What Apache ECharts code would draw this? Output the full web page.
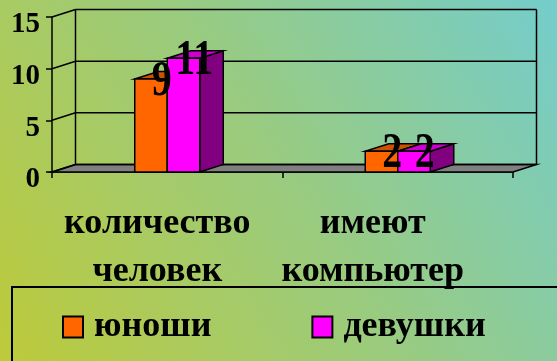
<!DOCTYPE html>
<html>
<head>
<meta charset="utf-8">
<title>Юноши и девушки</title>
<script src="https://cdn.jsdelivr.net/npm/echarts@6/dist/echarts.min.js"></script>
<style>
  html, body { margin: 0; padding: 0; }
  #chart { width: 557px; height: 361px; }
</style>
</head>
<body>
<div id="chart"></div>
<script>
// Data
const categories = ['количество\nчеловек', 'имеют\nкомпьютер'];
const seriesNames = ['юноши', 'девушки'];
const boys = [9, 2];
const girls = [11, 2];
const yMin = 0, yMax = 15, yStep = 5;

// Pseudo-3D look: depth offset of the back plane, in pixels
const DX = 23.5, DY = 7.5;
const BAR_RATIO = 0.141;
const SERIF = '"Liberation Serif", "Times New Roman", serif';
const colors = {
  boys:  { front: '#ff6600', top: '#cc5200', side: '#993d00' },
  girls: { front: '#ff00ff', top: '#cc00cc', side: '#800080' }
};

function renderFrame(params, api) {
  const cs = params.coordSys;
  const xl = cs.x, xr = cs.x + cs.width;
  const yb = api.coord([0, yMin])[1];
  const yt = api.coord([0, yMax])[1];
  const line = { stroke: '#000', lineWidth: 1.5 };
  const children = [];
  // floor
  children.push({
    type: 'polygon',
    shape: { points: [[xl, yb], [xl + DX, yb - DY], [xr + DX, yb - DY], [xr, yb]] },
    style: { fill: '#808080', stroke: '#000', lineWidth: 1.5 }
  });
  // back wall verticals
  children.push({ type: 'line', shape: { x1: xl + DX, y1: yt - DY, x2: xl + DX, y2: yb - DY }, style: line });
  children.push({ type: 'line', shape: { x1: xr + DX, y1: yt - DY, x2: xr + DX, y2: yb - DY }, style: line });
  // gridlines on back wall and left side
  for (let v = yMin; v <= yMax; v += yStep) {
    const y = api.coord([0, v])[1];
    children.push({ type: 'line', shape: { x1: xl + DX, y1: y - DY, x2: xr + DX, y2: y - DY }, style: line });
    children.push({ type: 'line', shape: { x1: xl, y1: y, x2: xl + DX, y2: y - DY }, style: line });
  }
  return { type: 'group', children: children };
}

function makeBarRenderer(palette, shift) {
  return function (params, api) {
    const cat = api.value(0), val = api.value(1);
    const base = api.coord([cat, 0]);
    const top = api.coord([cat, val]);
    const w = api.size([1, 0])[0] * BAR_RATIO;
    const x0 = base[0] + shift * w, x1 = x0 + w;
    const yb = base[1], yt = top[1];
    const stroke = { stroke: '#000', lineWidth: 1.5 };
    return {
      type: 'group',
      children: [
        { type: 'polygon', shape: { points: [[x1, yt], [x1 + DX, yt - DY], [x1 + DX, yb - DY], [x1, yb]] },
          style: Object.assign({ fill: palette.side }, stroke) },
        { type: 'polygon', shape: { points: [[x0, yt], [x0 + DX, yt - DY], [x1 + DX, yt - DY], [x1, yt]] },
          style: Object.assign({ fill: palette.top }, stroke) },
        { type: 'rect', shape: { x: x0, y: yt, width: w, height: yb - yt },
          style: Object.assign({ fill: palette.front }, stroke) },
        { type: 'text', z2: 100,
          x: (x0 + x1) / 2 + DX / 2 - 1, y: yt - DY / 2 + 7,
          scaleY: 1.25,
          style: { text: String(val), fill: '#000', font: 'bold 40px ' + SERIF,
                   align: 'center', verticalAlign: 'middle' } }
      ]
    };
  };
}

const chart = echarts.init(document.getElementById('chart'));
chart.setOption({
  animation: false,
  backgroundColor: {
    type: 'linear', x: 0, y: 1, x2: 1, y2: 0,
    colorStops: [
      { offset: 0, color: '#bdca3a' },
      { offset: 0.5, color: '#9acb7e' },
      { offset: 1, color: '#74cdcc' }
    ]
  },
  grid: { left: 52, right: 44, top: 17, bottom: 189 },
  legend: {
    data: seriesNames,
    left: 12, top: 287,
    width: 700,
    padding: [22, 120, 40, 50],
    itemGap: 100,
    itemWidth: 20, itemHeight: 21,
    icon: 'rect',
    borderColor: '#000', borderWidth: 2,
    textStyle: { fontFamily: SERIF, fontWeight: 'bold', fontSize: 36, color: '#000', padding: [0, 0, 0, 6] }
  },
  xAxis: {
    type: 'category',
    data: categories,
    axisLine: { show: true, lineStyle: { color: '#000', width: 1.5 } },
    axisTick: { show: true, length: 6, lineStyle: { color: '#000', width: 1.5 } },
    splitLine: { show: false },
    axisLabel: {
      interval: 0, margin: 28,
      formatter: function (v, i) {
        const tag = i === 0 ? 'a' : 'b';
        return v.split('\n').map(function (s) { return '{' + tag + '|' + s + '}'; }).join('\n');
      },
      rich: {
        a: { fontFamily: SERIF, fontWeight: 'bold', fontSize: 36, color: '#000', lineHeight: 48, padding: [0, 20, 0, 0] },
        b: { fontFamily: SERIF, fontWeight: 'bold', fontSize: 36, color: '#000', lineHeight: 48, padding: [0, 50, 0, 0] }
      }
    }
  },
  yAxis: {
    type: 'value',
    min: yMin, max: yMax, interval: yStep,
    axisLine: { show: true, lineStyle: { color: '#000', width: 1.5 } },
    axisTick: { show: true, length: 6, lineStyle: { color: '#000', width: 1.5 } },
    splitLine: { show: false },
    axisLabel: {
      margin: 12,
      formatter: function (v) { return '{v|' + v + '}'; },
      rich: {
        v: { color: '#000', fontFamily: SERIF, fontWeight: 'bold', fontSize: 29, padding: [16, 0, 0, 0] }
      }
    }
  },
  series: [
    {
      name: seriesNames[0], type: 'custom', z: 3,
      itemStyle: { color: colors.boys.front, borderColor: '#000', borderWidth: 1.5 },
      renderItem: makeBarRenderer(colors.boys, -1),
      data: boys.map(function (v, i) { return [i, v]; })
    },
    {
      name: seriesNames[1], type: 'custom', z: 3,
      itemStyle: { color: colors.girls.front, borderColor: '#000', borderWidth: 1.5 },
      renderItem: makeBarRenderer(colors.girls, 0),
      data: girls.map(function (v, i) { return [i, v]; })
    },
    {
      name: 'frame', type: 'custom', z: 1, silent: true,
      renderItem: renderFrame,
      data: [[0, 0]]
    }
  ]
});
</script>
</body>
</html>
